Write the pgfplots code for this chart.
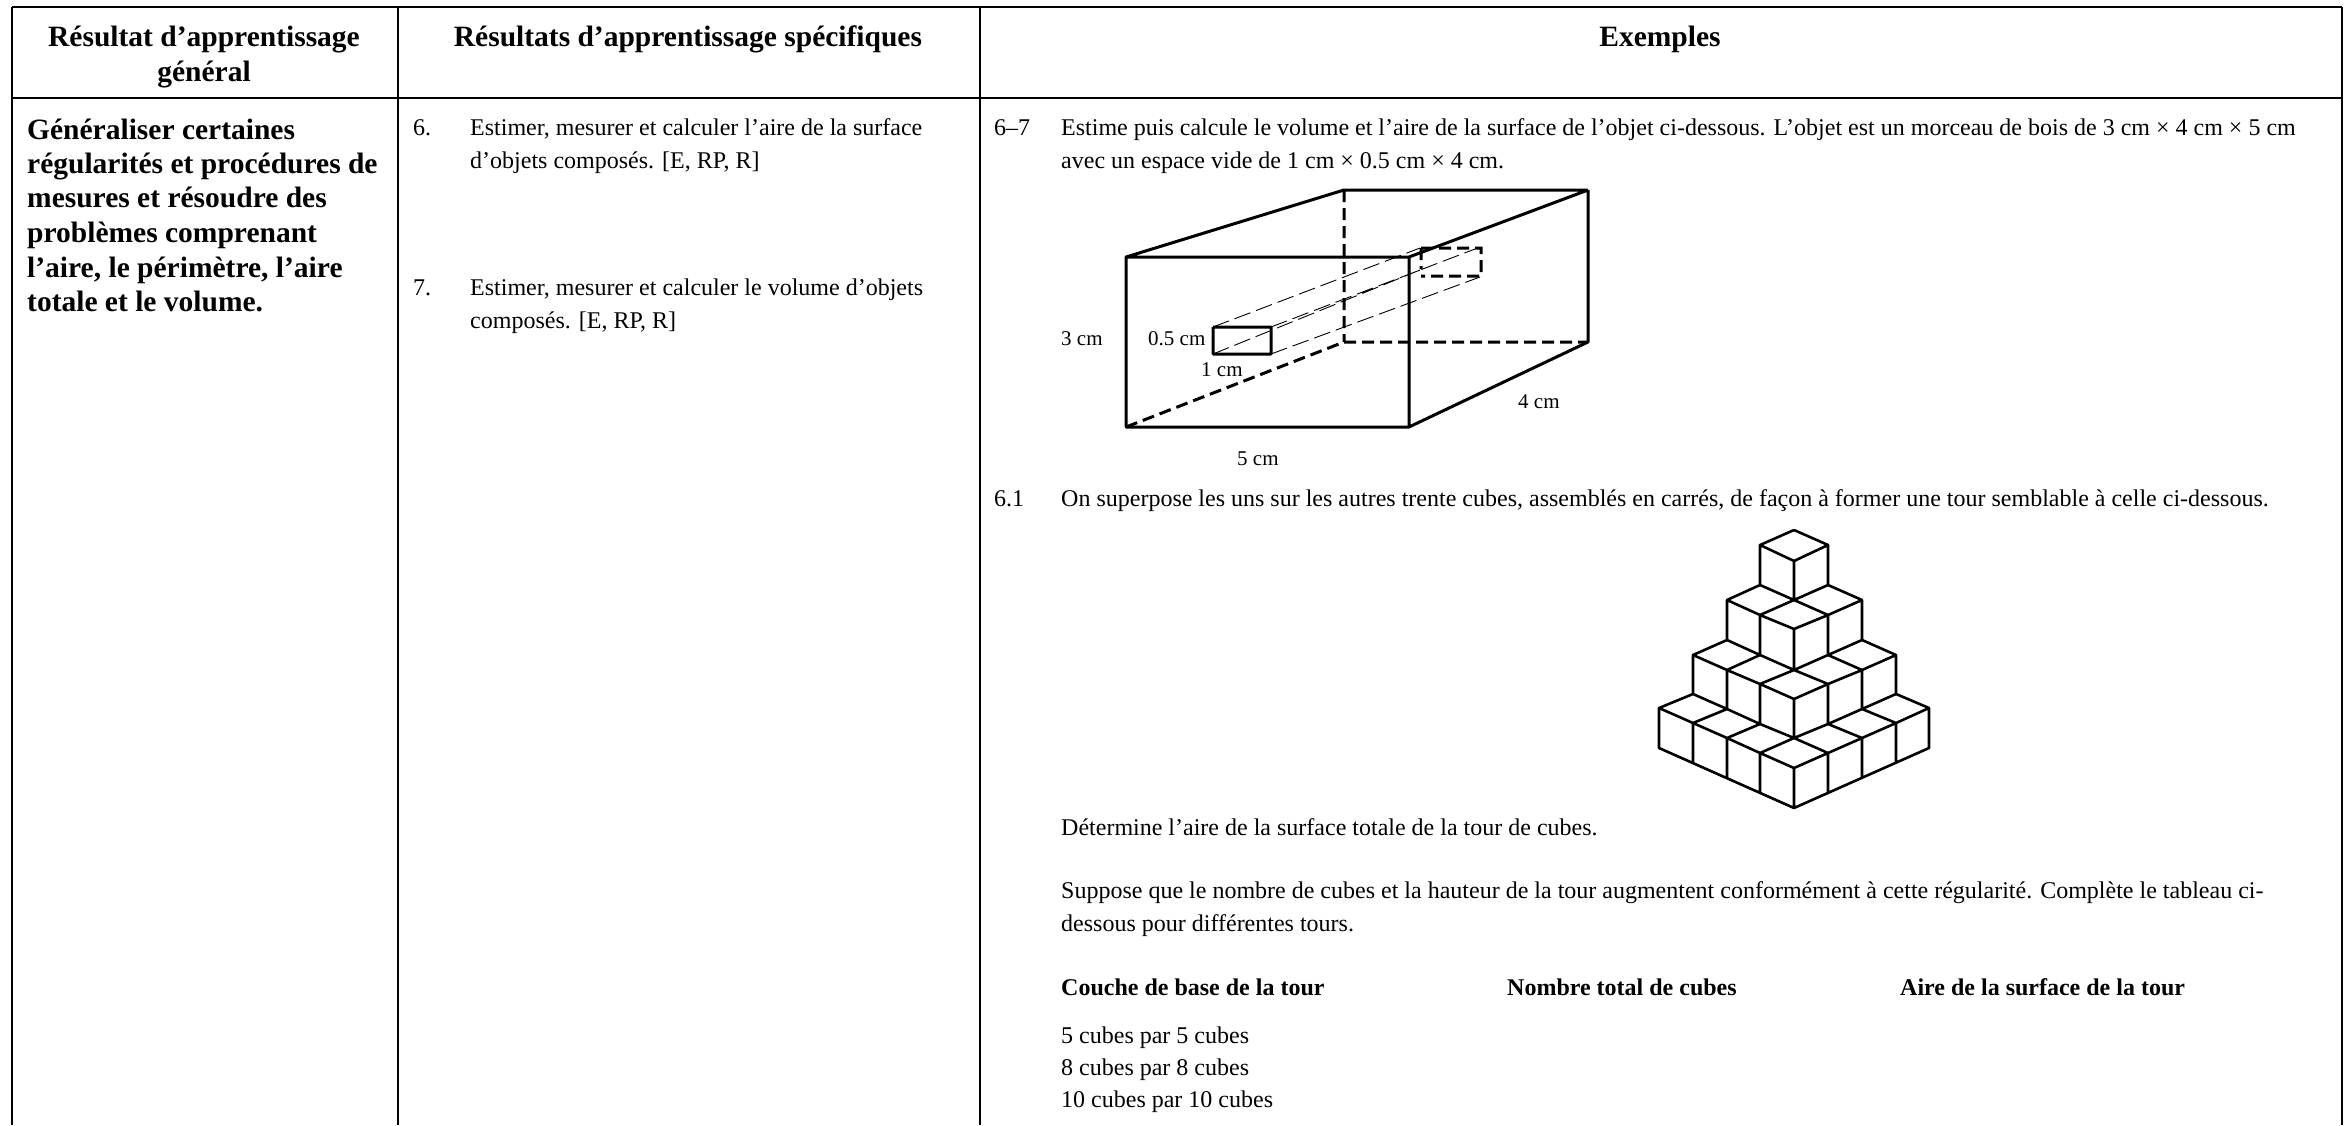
\documentclass[border=0pt]{standalone}
\usepackage{fontspec}
\setmainfont{Liberation Serif}
\usepackage{pgfplots}
\pgfplotsset{compat=1.18}
\newcommand{\txt}[3]{\node[anchor=base west,inner sep=0pt] at (axis cs:#1,#2) {\fontsize{24}{28}\selectfont #3};}
\newcommand{\lab}[3]{\node[anchor=base west,inner sep=0pt] at (axis cs:#1,#2) {\fontsize{21}{24}\selectfont #3};}
\newcommand{\bld}[3]{\node[anchor=base west,inner sep=0pt] at (axis cs:#1,#2) {\fontsize{29.5}{34}\selectfont\bfseries #3};}
\newcommand{\hdr}[3]{\node[anchor=base,inner sep=0pt] at (axis cs:#1,#2) {\fontsize{29.5}{34}\selectfont\bfseries #3};}
\begin{document}
\begin{tikzpicture}
\useasboundingbox (0,0) rectangle (2352pt,1125pt);
\begin{axis}[
    at={(0pt,0pt)},anchor=south west,
    width=2352pt,height=1125pt,scale only axis,
    xmin=0,xmax=2352,ymin=0,ymax=1125,y dir=reverse,
    hide axis,clip=false,unbounded coords=jump,
]
% table rules
\addplot[black,line width=2.2pt,forget plot] coordinates {
    (12,7) (2342,7) (nan,nan)
    (12,98) (2342,98) (nan,nan)
    (12,7) (12,1125) (nan,nan)
    (398,7) (398,1125) (nan,nan)
    (980,7) (980,1125) (nan,nan)
    (2342,7) (2342,1125)
};
% box: solid edges
\addplot[black,line width=3pt,forget plot,line join=miter,miter limit=1] coordinates {
    (1126,257) (1409,257) (1409,427) (1126,427) (1126,257) (1344,190) (1588,190) (1409,257) (nan,nan)
    (1588,190) (1588,342) (1409,427) (nan,nan)
    (1213,327) (1271,327) (1271,354) (1213,354) (1213,327)
};
% box: hidden edges
\addplot[black,line width=3pt,dash pattern=on 12pt off 6pt,forget plot] coordinates {
    (1126,427) (1344,342) (1588,342) (nan,nan)
    (1344,190) (1344,342) (nan,nan)
    (1421,248) (1481,248) (1481,276) (1421,276) (nan,nan)
    (1421,248) (1421,269)
};
% hole edges
\addplot[black,line width=0.9pt,dash pattern=on 17pt off 6pt,forget plot] coordinates {
    (1213,327) (1420,248) (nan,nan)
    (1271,327) (1475,249) (nan,nan)
    (1213,354) (1420,270) (nan,nan)
    (1271,354) (1480,277)
};
% cube tower
\addplot[black,line width=2.6pt,line join=round,forget plot] coordinates {
    (1794,530) (1828,545) (1794,561) (1760,545) (1794,530) (nan,nan)
    (1760,545) (1760,585) (nan,nan) (1794,561) (1794,600) (nan,nan) (1828,545) (1828,585) (nan,nan)
    (1794,600) (1828,615) (1794,629) (1760,615) (1794,600) (nan,nan)
    (1760,585) (1794,600) (1760,615) (1727,600) (1760,585) (nan,nan)
    (1828,585) (1862,600) (1828,615) (1794,600) (1828,585) (nan,nan)
    (1727,600) (1727,640) (nan,nan) (1760,615) (1760,655) (nan,nan) (1794,629) (1794,670) (nan,nan)
    (1828,615) (1828,655) (nan,nan) (1862,600) (1862,640) (nan,nan)
    (1727,640) (1760,655) (1727,670) (1693,655) (1727,640) (nan,nan)
    (1760,655) (1794,670) (1760,684) (1727,670) (nan,nan)
    (1794,670) (1828,684) (1794,699) (1760,684) (nan,nan)
    (1828,655) (1862,670) (1828,684) (1794,670) (1828,655) (nan,nan)
    (1862,640) (1896,655) (1862,670) (1828,655) (1862,640) (nan,nan)
    (1693,655) (1693,694) (nan,nan) (1727,670) (1727,709) (nan,nan) (1760,684) (1760,724) (nan,nan)
    (1794,699) (1794,738) (nan,nan) (1828,684) (1828,724) (nan,nan) (1862,670) (1862,709) (nan,nan)
    (1896,655) (1896,694) (nan,nan)
    (1693,694) (1727,709) (1693,723) (1659,708) (1693,694) (nan,nan)
    (1727,709) (1760,724) (1727,738) (1693,723) (nan,nan)
    (1760,724) (1794,738) (1760,753) (1727,738) (nan,nan)
    (1794,738) (1828,753) (1794,768) (1760,753) (1794,738) (nan,nan)
    (1828,724) (1862,738) (1828,753) (nan,nan) (1794,738) (1828,724) (nan,nan)
    (1862,709) (1896,723) (1862,738) (nan,nan) (1828,724) (1862,709) (nan,nan)
    (1896,694) (1929,708) (1896,723) (nan,nan) (1862,709) (1896,694) (nan,nan)
    (1659,708) (1659,748) (1794,808) (1929,748) (1929,708) (nan,nan)
    (1693,723) (1693,763) (nan,nan) (1727,738) (1727,778) (nan,nan) (1760,753) (1760,793) (nan,nan)
    (1794,768) (1794,808) (nan,nan) (1828,753) (1828,793) (nan,nan) (1862,738) (1862,778) (nan,nan)
    (1896,723) (1896,763)
};
% header
\hdr{204}{46}{Résultat d’apprentissage}
\hdr{204}{81}{général}
\hdr{688}{46}{Résultats d’apprentissage spécifiques}
\hdr{1660}{46}{Exemples}
% general outcome, bold
\bld{27}{139}{Généraliser certaines}
\bld{27}{173}{régularités et procédures de}
\bld{27}{207}{mesures et résoudre des}
\bld{27}{242}{problèmes comprenant}
\bld{27}{277}{l’aire, le périmètre, l’aire}
\bld{27}{311}{totale et le volume.}
% specific outcomes
\txt{413}{135}{6.}
\txt{470}{135}{Estimer, mesurer et calculer l’aire de la surface}
\txt{470}{168}{d’objets composés. [E, RP, R]}
\txt{413}{295}{7.}
\txt{470}{295}{Estimer, mesurer et calculer le volume d’objets}
\txt{470}{328}{composés. [E, RP, R]}
% examples
\txt{994}{135}{6–7}
\txt{1061}{135}{Estime puis calcule le volume et l’aire de la surface de l’objet ci-dessous. L’objet est un morceau de bois de 3 cm × 4 cm × 5 cm}
\txt{1061}{168}{avec un espace vide de 1 cm × 0.5 cm × 4 cm.}
\txt{994}{506}{6.1}
\txt{1061}{506}{On superpose les uns sur les autres trente cubes, assemblés en carrés, de façon à former une tour semblable à celle ci-dessous.}
\txt{1061}{835}{Détermine l’aire de la surface totale de la tour de cubes.}
\txt{1061}{898}{Suppose que le nombre de cubes et la hauteur de la tour augmentent conformément à cette régularité. Complète le tableau ci-}
\txt{1061}{931}{dessous pour différentes tours.}
\txt{1061}{995}{\bfseries Couche de base de la tour}
\txt{1507}{995}{\bfseries Nombre total de cubes}
\txt{1900}{995}{\bfseries Aire de la surface de la tour}
\txt{1061}{1043}{5 cubes par 5 cubes}
\txt{1061}{1075}{8 cubes par 8 cubes}
\txt{1061}{1107}{10 cubes par 10 cubes}
% figure labels
\lab{1061}{345}{3 cm}
\lab{1148}{345}{0.5 cm}
\lab{1201}{376}{1 cm}
\lab{1518}{408}{4 cm}
\lab{1237}{465}{5 cm}
\end{axis}
\end{tikzpicture}
\end{document}
